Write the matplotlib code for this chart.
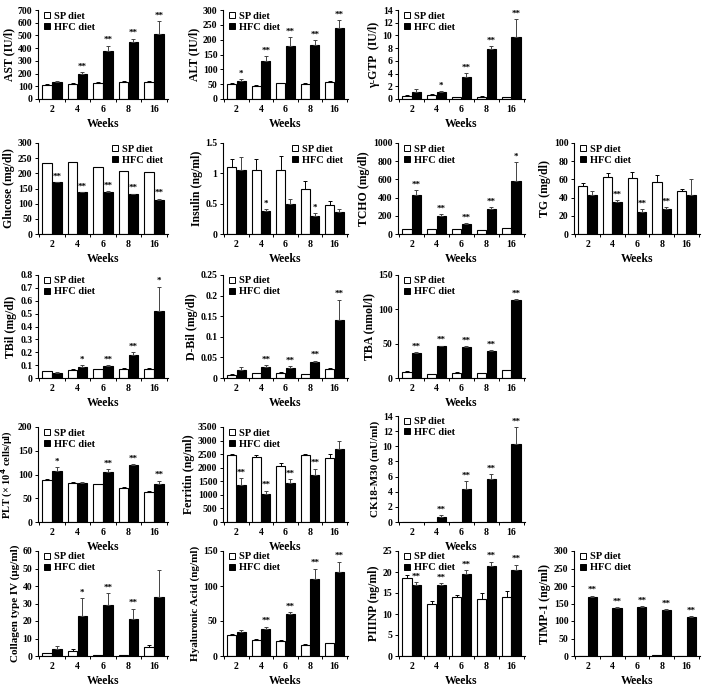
import numpy as np
import matplotlib
matplotlib.use('Agg')
import matplotlib.pyplot as plt
from matplotlib.lines import Line2D

weeks = ['2', '4', '6', '8', '16']

# AST
ast_sp = [110, 120, 125, 135, 135]
ast_sp_err = [5, 5, 5, 3, 8]
ast_hfc = [130, 195, 375, 445, 510]
ast_hfc_err = [10, 20, 45, 30, 100]
ast_stars = ['', '**', '**', '**', '**']
# ALT
alt_sp = [50, 45, 53, 52, 58]
alt_sp_err = [3, 2, 2, 2, 3]
alt_hfc = [62, 127, 180, 183, 240]
alt_hfc_err = [4, 18, 30, 15, 25]
alt_stars = ['*', '**', '**', '**', '**']
# gamma-GTP
ggt_sp = [0.5, 0.7, 0.3, 0.35, 0.25]
ggt_sp_err = [0.1, 0.1, 0.05, 0.05, 0.05]
ggt_hfc = [1.1, 1.05, 3.5, 7.8, 9.8]
ggt_hfc_err = [0.4, 0.2, 0.6, 0.5, 2.8]
ggt_stars = ['', '*', '**', '**', '**']
# Glucose
glu_sp = [235, 237, 222, 207, 205]
glu_sp_err = [0, 0, 0, 0, 0]
glu_hfc = [170, 137, 140, 131, 112]
glu_hfc_err = [2, 2, 2, 2, 5]
glu_stars = ['**', '**', '**', '**', '**']
# Insulin
ins_sp = [1.1, 1.05, 1.05, 0.74, 0.48]
ins_sp_err = [0.14, 0.18, 0.24, 0.14, 0.07]
ins_hfc = [1.05, 0.38, 0.49, 0.3, 0.36]
ins_hfc_err = [0.22, 0.03, 0.08, 0.04, 0.06]
ins_stars = ['', '*', '', '*', '']
# TCHO
tcho_sp = [55, 55, 50, 45, 65]
tcho_sp_err = [3, 3, 3, 3, 4]
tcho_hfc = [430, 195, 110, 270, 580]
tcho_hfc_err = [55, 25, 10, 30, 210]
tcho_stars = ['**', '**', '**', '**', '*']
# TG
tg_sp = [53, 63, 62, 57, 47]
tg_sp_err = [3, 4, 6, 8, 2]
tg_hfc = [43, 35, 24, 27, 43]
tg_hfc_err = [4, 2, 3, 3, 17]
tg_stars = ['', '**', '**', '**', '']
# TBil
tbil_sp = [0.055, 0.065, 0.068, 0.072, 0.072]
tbil_sp_err = [0.003, 0.003, 0.003, 0.003, 0.003]
tbil_hfc = [0.035, 0.088, 0.095, 0.18, 0.52]
tbil_hfc_err = [0.008, 0.01, 0.005, 0.02, 0.19]
tbil_stars = ['', '*', '**', '**', '*']
# D-Bil
dbil_sp = [0.008, 0.012, 0.012, 0.009, 0.022]
dbil_sp_err = [0.001, 0.001, 0.002, 0.001, 0.002]
dbil_hfc = [0.02, 0.027, 0.025, 0.038, 0.14]
dbil_hfc_err = [0.007, 0.004, 0.003, 0.004, 0.05]
dbil_stars = ['', '**', '**', '**', '**']
# TBA
tba_sp = [9, 6, 8, 7, 11]
tba_sp_err = [0.5, 0.5, 0.5, 0.5, 0.5]
tba_hfc = [37, 46, 45, 40, 114]
tba_hfc_err = [1, 1, 1, 1, 1]
tba_stars = ['**', '**', '**', '**', '**']
# PLT
plt_sp = [88, 83, 79, 72, 64]
plt_sp_err = [2, 2, 1, 2, 2]
plt_hfc = [108, 82, 105, 119, 81]
plt_hfc_err = [8, 3, 7, 3, 6]
plt_stars = ['*', '', '**', '**', '**']
# Ferritin
fer_sp = [2470, 2400, 2080, 2480, 2340]
fer_sp_err = [50, 60, 100, 30, 150]
fer_hfc = [1380, 1040, 1450, 1730, 2700]
fer_hfc_err = [250, 120, 130, 240, 300]
fer_stars = ['**', '**', '**', '**', '']
# CK18-M30
ck_sp = [0, 0, 0, 0, 0]
ck_sp_err = [0, 0, 0, 0, 0]
ck_hfc = [0, 0.6, 4.4, 5.7, 10.3]
ck_hfc_err = [0, 0.3, 1.0, 0.6, 2.2]
ck_stars = ['', '**', '**', '**', '**']
# Collagen type IV
col_sp = [1.5, 3, 0.5, 0.5, 5]
col_sp_err = [0.5, 1, 0.2, 0.2, 1.5]
col_hfc = [4, 23, 29, 21, 34]
col_hfc_err = [2, 10, 7, 6, 15]
col_stars = ['', '*', '**', '**', '']
# Hyaluronic acid
ha_sp = [30, 23, 22, 16, 18]
ha_sp_err = [2, 1, 1, 1, 1]
ha_hfc = [34, 39, 60, 110, 120]
ha_hfc_err = [3, 3, 3, 15, 15]
ha_stars = ['', '**', '**', '**', '**']
# PIIINP
p3_sp = [18.5, 12.5, 14, 13.5, 14]
p3_sp_err = [0.8, 0.5, 0.5, 1.5, 1.5]
p3_hfc = [16.8, 16.8, 19.5, 21.5, 20.5]
p3_hfc_err = [0.8, 0.5, 1, 1, 1.2]
p3_stars = ['**', '**', '**', '**', '**']
# TIMP-1
timp_sp = [1, 1, 1, 3, 1]
timp_sp_err = [0, 0, 0, 0, 0]
timp_hfc = [170, 137, 140, 132, 112]
timp_hfc_err = [2, 2, 2, 2, 2]
timp_stars = ['**', '**', '**', '**', '**']

plt.rcParams['font.family'] = ['Liberation Serif', 'DejaVu Serif']
plt.rcParams['font.weight'] = 'bold'

W, H = 709, 693
fig = plt.figure(figsize=(W / 100, H / 100), dpi=100)

def px_axes(left, top, right, bottom):
    return fig.add_axes([left / W, 1 - bottom / H, (right - left) / W, (bottom - top) / H])

def panel(ax, sp, sp_err, hfc, hfc_err, stars, ymax, step, ylabel, fmt=None,
          legend_right=False, ylabel_size=8.5):
    x = np.arange(len(weeks))
    w = 0.37
    ax.bar(x - 0.19, sp, w, color='white', edgecolor='black', linewidth=0.8,
           yerr=[np.zeros(len(sp)), sp_err],
           error_kw=dict(elinewidth=0.7, capsize=1.5, capthick=0.7, ecolor='black'))
    ax.bar(x + 0.19, hfc, w, color='black', edgecolor='black', linewidth=0.8,
           yerr=[np.zeros(len(hfc)), hfc_err],
           error_kw=dict(elinewidth=0.7, capsize=1.5, capthick=0.7, ecolor='#444444'))
    for i, s in enumerate(stars):
        if s:
            ax.text(x[i] + 0.19, hfc[i] + hfc_err[i] + ymax * 0.015, s, ha='center', va='bottom',
                    fontsize=6.5, fontweight='bold')
    ax.set_xlim(-0.55, len(weeks) - 0.45)
    ax.set_ylim(0, ymax)
    ticks = np.arange(0, ymax + step / 2, step)
    ax.set_yticks(ticks)
    if fmt:
        ax.set_yticklabels([fmt(t) for t in ticks])
    ax.set_xticks(x)
    ax.set_xticklabels(weeks)
    ax.set_xticks(np.arange(len(weeks) + 1) - 0.5, minor=True)
    ax.tick_params(axis='x', which='major', length=0, pad=4)
    ax.tick_params(axis='x', which='minor', length=2, width=0.7)
    ax.tick_params(axis='y', length=2, width=0.7, pad=2)
    ax.tick_params(labelsize=7)
    for t in ax.get_xticklabels() + ax.get_yticklabels():
        t.set_fontweight('bold')
    ax.spines['top'].set_visible(False)
    ax.spines['right'].set_visible(False)
    ax.spines['left'].set_linewidth(0.8)
    ax.spines['bottom'].set_linewidth(0.8)
    ax.set_xlabel('Weeks', fontsize=8.5, fontweight='bold', labelpad=3)
    ax.set_ylabel(ylabel, fontsize=ylabel_size, fontweight='bold', labelpad=2)
    handles = [Line2D([], [], marker='s', ls='none', mfc='white', mec='black', ms=4, mew=0.7),
               Line2D([], [], marker='s', ls='none', mfc='black', mec='black', ms=4, mew=0.7)]
    loc = 'upper right' if legend_right else 'upper left'
    ax.legend(handles, ['SP diet', 'HFC diet'], loc=loc, frameon=False,
              handletextpad=0.05, borderaxespad=0.1, labelspacing=0.15, handlelength=1.2,
              bbox_to_anchor=(1.0, 1.04) if legend_right else (-0.02, 1.04),
              prop=dict(weight='bold', size=7.5))

dec = lambda t: ('%g' % t)

c1 = (38, 168)
c2 = (223, 348)
c3 = (398, 525)
c4 = (574, 700)
r1 = (10, 99)
r2 = (143, 234)
r3 = (275, 378)
r4 = (427, 522)
r5 = (551, 656)

panel(px_axes(c1[0], r1[0], c1[1], r1[1]), ast_sp, ast_sp_err, ast_hfc, ast_hfc_err, ast_stars, 700, 100, 'AST (IU/l)')
panel(px_axes(c2[0], r1[0], c2[1], r1[1]), alt_sp, alt_sp_err, alt_hfc, alt_hfc_err, alt_stars, 300, 50, 'ALT (IU/l)')
panel(px_axes(c3[0], r1[0], c3[1], r1[1]), ggt_sp, ggt_sp_err, ggt_hfc, ggt_hfc_err, ggt_stars, 14, 2, 'γ-GTP  (IU/l)')

panel(px_axes(c1[0], r2[0], c1[1], r2[1]), glu_sp, glu_sp_err, glu_hfc, glu_hfc_err, glu_stars, 300, 50, 'Glucose (mg/dl)', legend_right=True)
panel(px_axes(c2[0], r2[0], c2[1], r2[1]), ins_sp, ins_sp_err, ins_hfc, ins_hfc_err, ins_stars, 1.5, 0.5, 'Insulin (ng/ml)', fmt=dec, legend_right=True)
panel(px_axes(c3[0], r2[0], c3[1], r2[1]), tcho_sp, tcho_sp_err, tcho_hfc, tcho_hfc_err, tcho_stars, 1000, 200, 'TCHO (mg/dl)')
panel(px_axes(c4[0], r2[0], c4[1], r2[1]), tg_sp, tg_sp_err, tg_hfc, tg_hfc_err, tg_stars, 100, 20, 'TG (mg/dl)')

panel(px_axes(c1[0], r3[0], c1[1], r3[1]), tbil_sp, tbil_sp_err, tbil_hfc, tbil_hfc_err, tbil_stars, 0.8, 0.1, 'TBil (mg/dl)', fmt=dec)
panel(px_axes(c2[0], r3[0], c2[1], r3[1]), dbil_sp, dbil_sp_err, dbil_hfc, dbil_hfc_err, dbil_stars, 0.25, 0.05, 'D-Bil (mg/dl)', fmt=dec)
panel(px_axes(c3[0], r3[0], c3[1], r3[1]), tba_sp, tba_sp_err, tba_hfc, tba_hfc_err, tba_stars, 150, 50, 'TBA (nmol/l)')

panel(px_axes(c1[0], r4[0], c1[1], r4[1]), plt_sp, plt_sp_err, plt_hfc, plt_hfc_err, plt_stars, 200, 50, 'PLT (× 10$^4$ cells/μl)', ylabel_size=7.5)
panel(px_axes(c2[0], r4[0], c2[1], r4[1]), fer_sp, fer_sp_err, fer_hfc, fer_hfc_err, fer_stars, 3500, 500, 'Ferritin (ng/ml)')
panel(px_axes(c3[0], 416, c3[1], r4[1]), ck_sp, ck_sp_err, ck_hfc, ck_hfc_err, ck_stars, 14, 2, 'CK18-M30 (mU/ml)', ylabel_size=8)

panel(px_axes(c1[0], r5[0], c1[1], r5[1]), col_sp, col_sp_err, col_hfc, col_hfc_err, col_stars, 60, 10, 'Collagen type IV (μg/ml)', ylabel_size=8)
panel(px_axes(c2[0], r5[0], c2[1], r5[1]), ha_sp, ha_sp_err, ha_hfc, ha_hfc_err, ha_stars, 150, 50, 'Hyaluronic Acid (ng/ml)', ylabel_size=8)
panel(px_axes(c3[0], r5[0], c3[1], r5[1]), p3_sp, p3_sp_err, p3_hfc, p3_hfc_err, p3_stars, 25, 5, 'PIIINP (ng/ml)')
panel(px_axes(c4[0], r5[0], c4[1], r5[1]), timp_sp, timp_sp_err, timp_hfc, timp_hfc_err, timp_stars, 300, 50, 'TIMP-1 (ng/ml)')

fig.savefig('out.png', dpi=100)
